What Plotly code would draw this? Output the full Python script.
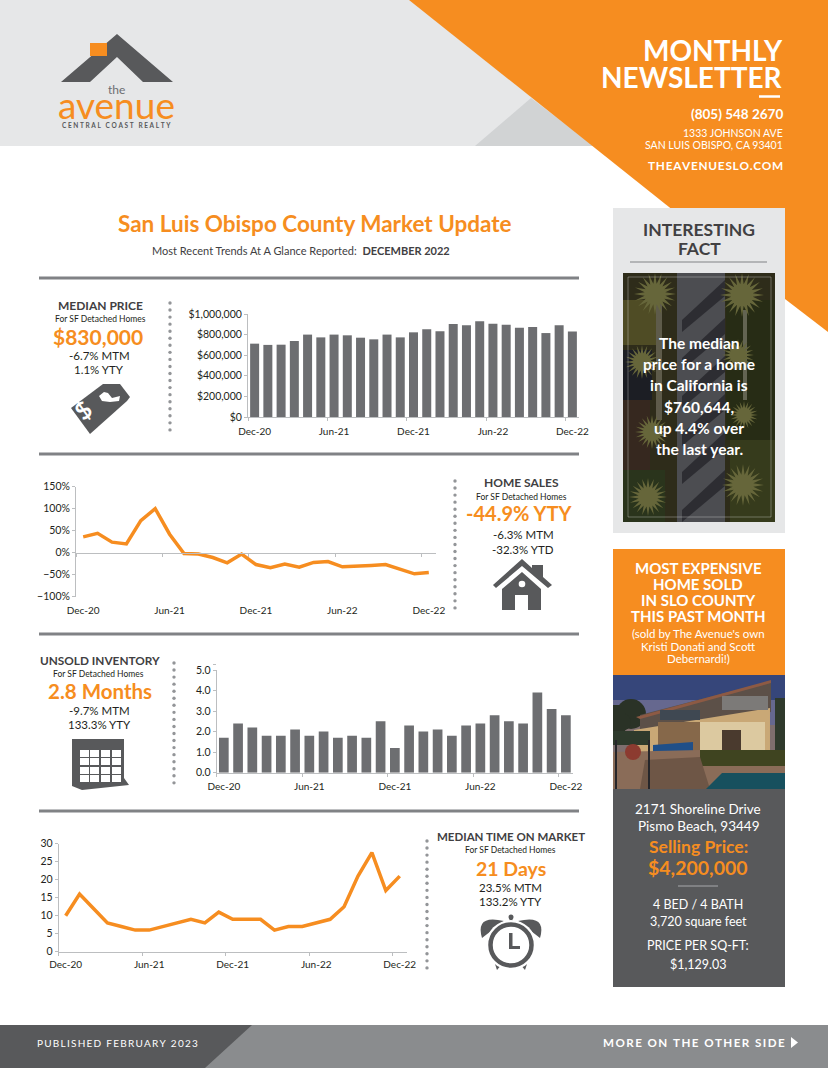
# monthly newsletter page: four small market charts plus the page furniture around them
import math
from plotly import graph_objects as go

W = 828
H = 1068
ORANGE = '#F68D20'
DARK = '#58595B'
TEXT = '#414042'
LIGHT = '#E6E7E8'
AXIS = '#BCBEC0'
FONT = 'Lato'

# data
month_index = list(range(25))
tick_months = [0, 6, 12, 18, 24]
tick_labels = ['Dec-20', 'Jun-21', 'Dec-21', 'Jun-22', 'Dec-22']
tick_edges = [-0.5, 5.5, 11.5, 17.5, 23.5]

median_price = [712000, 700000, 702000, 738000, 800000, 773000, 800000, 793000, 770000,
                754000, 800000, 773000, 822000, 851000, 832000, 903000, 890000, 929000,
                906000, 896000, 867000, 874000, 815000, 890000, 830000]
home_sales = [36, 44, 24, 20, 73, 100, 42, -2, -3, -11, -23, -3, -27, -34, -26, -33,
              -22, -20, -32, -31, -29, -27, -38, -48, -45]
unsold_inventory = [1.7, 2.4, 2.2, 1.8, 1.8, 2.1, 1.8, 2.0, 1.7, 1.8, 1.7, 2.5, 1.2, 2.3,
                    2.0, 2.1, 1.8, 2.3, 2.4, 2.8, 2.5, 2.4, 3.9, 3.1, 2.8]
time_on_market = [10, 16, 12, 8, 7, 6, 6, 7, 8, 9, 8, 11, 9, 9, 9, 6, 7, 7, 8, 9, 12.5,
                  21, 27.5, 17, 21]

fig = go.Figure()
shapes = []
notes = []


# page pixels to paper coordinates
def px(x):
    return x / W


def py(y):
    return 1 - y / H


def rect(x0, y0, x1, y1, color, opacity=1, line=None, width=1):
    shapes.append(dict(type='rect', xref='paper', yref='paper', x0=px(x0), x1=px(x1), y0=py(y0), y1=py(y1),
                       fillcolor=color, opacity=opacity, line=dict(color=line, width=width if line else 0), layer='below'))


def poly(points, color, opacity=1):
    path = 'M' + ' L'.join(f'{px(x):.5f},{py(y):.5f}' for x, y in points) + ' Z'
    shapes.append(dict(type='path', xref='paper', yref='paper', path=path, fillcolor=color, opacity=opacity,
                       line=dict(width=0), layer='below'))


# closed shape with one curved side, used for the clock bells
def bell(start, control, end, color):
    path = (f'M{px(start[0]):.5f},{py(start[1]):.5f} Q{px(control[0]):.5f},{py(control[1]):.5f} '
            f'{px(end[0]):.5f},{py(end[1]):.5f} Z')
    shapes.append(dict(type='path', xref='paper', yref='paper', path=path, fillcolor=color, line=dict(width=0), layer='below'))


def circle(cx, cy, r, color, line=None, width=0, opacity=1):
    shapes.append(dict(type='circle', xref='paper', yref='paper', x0=px(cx - r), x1=px(cx + r), y0=py(cy - r), y1=py(cy + r),
                       fillcolor=color, opacity=opacity, line=dict(color=line, width=width), layer='below'))


def hline(x0, x1, y, color, width):
    shapes.append(dict(type='line', xref='paper', yref='paper', x0=px(x0), x1=px(x1), y0=py(y), y1=py(y),
                       line=dict(color=color, width=width), layer='below'))


def dots(x, y0, y1):
    y = y0
    while y <= y1:
        circle(x, y, 1.7, '#939598')
        y += 7.05


def star(cx, cy, big, small, n, color, opacity=1):
    pts = []
    for i in range(n * 2):
        a = math.pi * i / n
        r = big if i % 2 == 0 else small
        pts.append((cx + r * math.cos(a), cy + r * math.sin(a)))
    poly(pts, color, opacity)


def text(x, y, s, size, color=TEXT, bold=False, anchor='center', angle=0):
    notes.append(dict(xref='paper', yref='paper', x=px(x), y=py(y), text=f'<b>{s}</b>' if bold else s, showarrow=False,
                      xanchor=anchor, yanchor='middle', textangle=angle, align=anchor,
                      font=dict(family=FONT, size=size, color=color)))


# letter spacing is not available in annotations, so thin spaces do the job
def spaced(s, gap='\u2009'):
    return gap.join(s)


# ---------- header ----------
rect(0, 0, W, 146, LIGHT)
poly([(475, 146), (531, 98), (594, 146)], '#D1D3D4')
poly([(409, 0), (828, 0), (828, 332), (785, 299), (669, 207)], ORANGE)

# logo
poly([(117, 34), (173, 82), (143, 82), (117, 57), (90, 82), (61, 82)], DARK)
rect(90, 43, 107, 56, ORANGE)
text(117, 90, 'the', 12, '#6D6E71')
text(117, 105, 'avenue', 37, ORANGE)
text(117, 125, '<b>' + spaced('CENTRAL COAST REALTY', '\u2009\u2009') + '</b>', 6.5, DARK)

text(784.5, 50, 'MONTHLY', 28, 'white', True, 'right')
text(784.5, 77, 'NEWSLETTER', 28, 'white', True, 'right')
hline(759, 780, 96.5, 'white', 2.5)
text(784.5, 114, '(805) 548 2670', 13.5, 'white', True, 'right')
text(784.5, 133, '1333 JOHNSON AVE', 10.5, 'white', False, 'right')
text(784.5, 145, 'SAN LUIS OBISPO, CA 93401', 10.5, 'white', False, 'right')
text(784.5, 165, spaced('THEAVENUESLO.COM', '\u200a'), 11.8, 'white', True, 'right')

# ---------- title ----------
text(315, 223, 'San Luis Obispo County Market Update', 22.5, ORANGE, True)
text(301, 251, 'Most Recent Trends At A Glance Reported:  <b>DECEMBER 2022</b>', 11, TEXT)
for rule_y in [278, 454, 634, 811]:
    hline(39, 579, rule_y, '#808285', 3)

# ---------- side blocks of each chart ----------
text(100, 305.5, 'MEDIAN PRICE', 12, TEXT, True)
text(100, 319, 'For SF Detached Homes', 8.5, '#231F20')
text(98, 336, '$830,000', 21, ORANGE, True)
text(99, 355, '-6.7% MTM', 11.5, '#231F20')
text(99, 369, '1.1% YTY', 11.5, '#231F20')
dots(170, 303, 430)

text(521, 482, 'HOME SALES', 12, TEXT, True)
text(521, 497, 'For SF Detached Homes', 8.5, '#231F20')
text(519, 513, '-44.9% YTY', 20, ORANGE, True)
text(523, 534, '-6.3% MTM', 11.5, '#231F20')
text(523, 549, '-32.3% YTD', 11.5, '#231F20')
dots(455, 481, 608)

text(100, 660, 'UNSOLD INVENTORY', 11.8, TEXT, True)
text(98, 674, 'For SF Detached Homes', 8.5, '#231F20')
text(100, 691, '2.8 Months', 20.5, ORANGE, True)
text(99, 710, '-9.7% MTM', 11.5, '#231F20')
text(99, 724, '133.3% YTY', 11.5, '#231F20')
dots(174, 663, 788)

text(511, 836, 'MEDIAN TIME ON MARKET', 11.5, TEXT, True)
text(511, 850, 'For SF Detached Homes', 8.5, '#231F20')
text(511, 868, '21 Days', 19.5, ORANGE, True)
text(511, 887, '23.5% MTM', 11.5, '#231F20')
text(511, 901, '133.2% YTY', 11.5, '#231F20')
dots(427, 841, 968)

# price tag icon
poly([(71, 408), (103, 384), (120, 384), (130, 397), (127, 401), (90, 434)], DARK)
poly([(99, 396), (104, 392), (108, 393), (112, 398), (120, 396), (119, 401), (110, 402), (102, 401)], 'white')
text(83, 410, '<b>$</b>', 24, 'white', angle=-40)

# house icon
poly([(522, 559), (532, 568), (532, 565), (543, 565), (543, 577), (552, 585), (548, 588), (522, 566), (496, 588), (493, 585)], DARK)
poly([(522, 572), (541, 589), (541, 610), (528, 610), (528, 595), (515, 595), (515, 610), (502, 610), (502, 589)], DARK)
circle(522, 584, 3.3, 'white')

# calendar icon
poly([(72, 739), (124, 739), (124, 778), (129, 785), (82, 790), (72, 786)], DARK)
for col_x in [80, 90, 101, 112]:
    for row_y in [750, 758, 767, 775]:
        rect(col_x, row_y, col_x + 9, row_y + 7, 'white')

# clock icon
bell((482, 938), (475, 914), (504, 921), DARK)
bell((540, 938), (547, 914), (518, 921), DARK)
rect(509.5, 917, 512.5, 925, DARK)
circle(511, 917, 2.5, DARK)
poly([(495, 964), (500, 960), (503, 963), (497, 970)], DARK)
poly([(527, 964), (522, 960), (519, 963), (525, 970)], DARK)
circle(511, 945, 25, 'white')
circle(511, 945, 20.5, 'white', DARK, 4.5)
rect(509, 933, 512.5, 949, DARK)
rect(509, 946, 520, 949, DARK)

# ---------- interesting fact panel ----------
rect(613, 208, 785, 533, LIGHT)
text(699, 229, 'INTERESTING', 17.5, TEXT, True)
text(699, 248, 'FACT', 17.5, TEXT, True)
hline(630, 767, 262, '#808285', 1)

# aerial photo made of flat shapes
rect(623, 273, 775, 522, '#2E2C1A')
rect(623, 300, 656, 345, '#4F4C25')
rect(623, 350, 652, 400, '#1C1E24')
rect(623, 400, 650, 470, '#36281F')
rect(623, 470, 665, 522, '#2A341C')
rect(726, 300, 775, 440, '#272C15')
rect(730, 440, 775, 522, '#363B1C')
rect(677, 273, 725, 522, '#4C4D51')
for y_top in [280, 318, 356, 394, 432, 470]:
    poly([(725, y_top), (682, y_top + 40), (682, y_top + 52), (725, y_top + 16)], '#232328', 0.75)
rect(656, 300, 662, 420, '#7E7C6A', 0.6)
rect(743, 310, 747, 400, '#8C8A7C', 0.6)
for cx, cy, big in [(655, 294, 21), (642, 362, 17), (652, 432, 17), (648, 497, 19),
                    (742, 295, 22), (738, 355, 16), (744, 415, 14), (743, 485, 21)]:
    star(cx, cy, big, big * 0.5, 20, '#66663A')
shapes.append(dict(type='rect', xref='paper', yref='paper', x0=px(628), x1=px(771), y0=py(277), y1=py(517),
                   line=dict(color='rgba(255,255,255,0.3)', width=1), fillcolor='rgba(0,0,0,0)', layer='below'))
for fact_y, fact_line in zip([343, 364, 385, 407, 428, 449],
                             ['The median', 'price for a home', 'in California is', '$760,644,', 'up 4.4% over', 'the last year.']):
    text(699, fact_y, fact_line, 15.5, 'white', True)

# ---------- most expensive home panel ----------
rect(613, 549, 785, 675, ORANGE)
for head_y, head_line in zip([568, 584, 600, 615.5],
                             ['MOST EXPENSIVE', 'HOME SOLD', 'IN SLO COUNTY', 'THIS PAST MONTH']):
    text(698, head_y, head_line, 15, 'white', True)
text(698, 633, "(sold by The Avenue's own", 11.5, 'white')
text(698, 646, 'Kristi Donati and Scott', 11.5, 'white')
text(698, 658, 'Debernardi!)', 11.5, 'white')

# house photo made of flat shapes
rect(613, 675, 785, 700, '#36467A')
rect(613, 700, 785, 725, '#66688F')
rect(613, 725, 785, 789, '#7E6E6E')
circle(631, 714, 15, '#2A3226')
circle(622, 722, 9, '#2A3226')
rect(613, 705, 625, 731, '#2A3226')
rect(775, 698, 785, 750, '#2F3A2C')
poly([(640, 715), (771, 681), (771, 712), (700, 722), (640, 730)], '#5C5048')
poly([(636, 717), (771, 680), (771, 683), (640, 719)], '#8D5A44')
poly([(634, 730), (770, 708), (770, 752), (634, 752)], '#C9A876')
rect(700, 722, 765, 750, '#DCC9A0')
rect(722, 730, 741, 750, '#4A3A2E')
rect(658, 722, 700, 752, '#86684A')
rect(660, 710, 700, 720, '#3F4852')
rect(722, 696, 768, 710, '#7C7A78')
rect(613, 731, 650, 745, '#2E3A2C')
poly([(653, 745), (693, 742), (693, 752), (653, 752)], '#1F4F88')
rect(700, 750, 785, 766, '#3F4420')
poly([(613, 752), (700, 750), (700, 766), (785, 766), (785, 789), (613, 789)], '#8A6C58')
poly([(645, 760), (700, 757), (710, 789), (640, 789)], '#6E5646')
circle(633, 752, 8, '#8C3B30')
poly([(706, 789), (722, 773), (785, 773), (785, 789)], '#17505E')
rect(615, 740, 617, 789, '#26262A')
rect(648, 740, 650, 789, '#26262A')

# price panel
rect(613, 789, 785, 987, DARK)
text(698, 809, '2171 Shoreline Drive', 13.5, 'white')
text(698, 826, 'Pismo Beach, 93449', 13.5, 'white')
text(698, 846, 'Selling Price:', 17.5, ORANGE, True)
text(698, 867, '$4,200,000', 19.5, ORANGE, True)
hline(678, 718, 886, '#A7A9AC', 1)
text(698, 904, '4 BED / 4 BATH', 12.5, 'white')
text(698, 921, '3,720 square feet', 12.5, 'white')
text(698, 945, 'PRICE PER SQ-FT:', 12.5, 'white')
text(698, 964, '$1,129.03', 12.5, 'white')

# ---------- footer ----------
rect(0, 1025, W, H, '#8A8C8E')
poly([(0, 1025), (252, 1025), (205, H), (0, H)], DARK)
text(35, 1043, spaced('PUBLISHED FEBRUARY 2023'), 10, 'white', False, 'left')
text(787, 1042, spaced('MORE ON THE OTHER SIDE'), 11.6, 'white', True, 'right')
poly([(791, 1037), (798, 1042.5), (791, 1048)], 'white')


# ---------- the four charts ----------
def x_axis(x0, x1, **extra):
    axis = dict(domain=[px(x0), px(x1)], range=[-0.5, 24.5], tickmode='array', tickvals=tick_months, ticktext=tick_labels,
                ticks='', showgrid=False, zeroline=False, showline=True, linecolor=AXIS, linewidth=1,
                minor=dict(tickmode='array', tickvals=tick_edges, ticks='outside', ticklen=3, tickcolor=AXIS, showgrid=False),
                tickfont=dict(family=FONT, size=10, color='#231F20'), fixedrange=True)
    axis.update(extra)
    return axis


def y_axis(y_top, y_bottom, value_range, step, **extra):
    axis = dict(domain=[py(y_bottom), py(y_top)], range=value_range, tickmode='linear', tick0=value_range[0], dtick=step,
                ticks='outside', ticklen=3, tickcolor=AXIS, showgrid=False, zeroline=False, showline=True,
                linecolor=AXIS, linewidth=1, tickfont=dict(family=FONT, size=10.5, color='#231F20'), fixedrange=True)
    axis.update(extra)
    return axis


fig.add_trace(go.Bar(x=month_index, y=median_price, width=0.68, marker=dict(color='#6D6E71', line=dict(width=0)), xaxis='x', yaxis='y'))
fig.add_trace(go.Scatter(x=month_index, y=home_sales, mode='lines', line=dict(color=ORANGE, width=3.5), xaxis='x2', yaxis='y2'))
fig.add_trace(go.Bar(x=month_index, y=unsold_inventory, width=0.68, marker=dict(color='#6D6E71', line=dict(width=0)), xaxis='x3', yaxis='y3'))
fig.add_trace(go.Scatter(x=month_index, y=time_on_market, mode='lines', line=dict(color=ORANGE, width=3.5), xaxis='x4', yaxis='y4'))

# tiny stray tick above 5.0 on the inventory axis
hline(213, 216, 664.5, AXIS, 1)

zero_y = 470 + 250 / 3

fig.update_layout(
    width=W, height=H, margin=dict(l=0, r=0, t=0, b=0, autoexpand=False), showlegend=False,
    paper_bgcolor='white', plot_bgcolor='rgba(0,0,0,0)', font=dict(family=FONT),
    shapes=shapes, annotations=notes,
    xaxis=x_axis(248, 579, anchor='y', ticklabelstandoff=5),
    yaxis=y_axis(314, 417, [0, 1000000], 200000, tickformat=',.0f', tickprefix='$', anchor='x'),
    xaxis2=x_axis(76, 436, anchor='free', position=py(zero_y), ticklabelstandoff=48),
    yaxis2=y_axis(486.7, 596.7, [-100, 150], 50, ticksuffix='%', anchor='x2'),
    xaxis3=x_axis(216.7, 573, anchor='y3', ticklabelstandoff=4),
    yaxis3=y_axis(670, 772.7, [0, 5], 1, tickformat='.1f', anchor='x3'),
    xaxis4=x_axis(58.7, 406.7, anchor='y4', ticklabelstandoff=3),
    yaxis4=y_axis(843.7, 951.7, [0, 30], 5, anchor='x4'),
)

fig.write_html('out.html', config=dict(displayModeBar=False, responsive=False),
               post_script='document.body.style.margin="0";document.body.style.overflow="hidden";')
